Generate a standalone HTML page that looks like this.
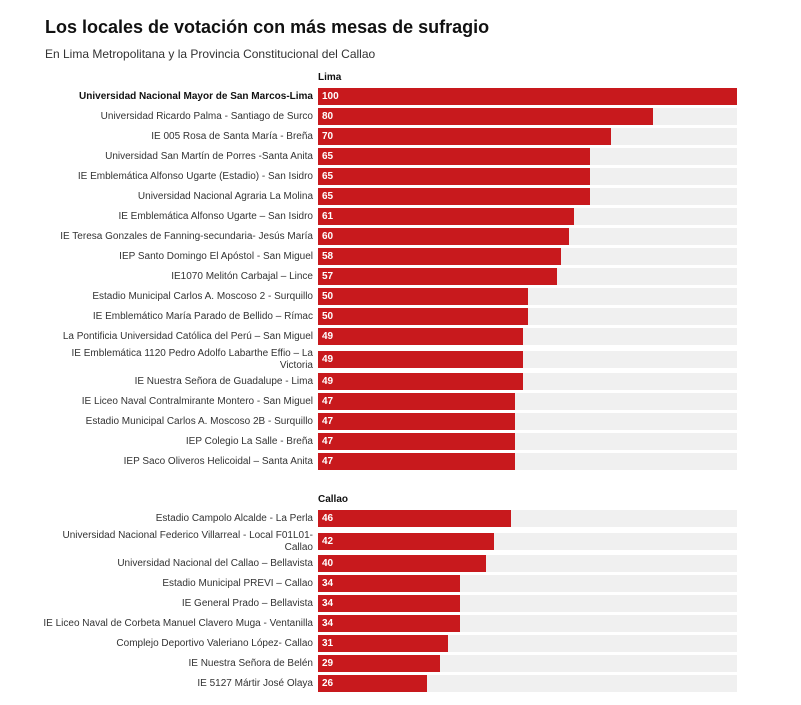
<!DOCTYPE html>
<html><head><meta charset="utf-8">
<style>
body{margin:0;background:#fff;width:801px;height:705px;overflow:hidden;font-family:"Liberation Sans",sans-serif;position:relative}
.t{position:absolute;left:45px;top:17px;font-size:18px;font-weight:bold;color:#111}
.s{position:absolute;left:45px;top:47px;font-size:12px;color:#333}
.h{position:absolute;left:318px;font-size:10px;font-weight:bold;color:#111}
.lab{position:absolute;right:488px;text-align:right;font-size:10px;color:#333;line-height:12px;white-space:nowrap}
.lab.two{white-space:normal;width:252px}
.bg{position:absolute;left:318px;width:419px;height:17px;background:#f0f0f0}
.bar{position:absolute;left:318px;height:17px;background:#c8191d}
.v{position:absolute;left:322px;height:17px;line-height:17px;font-size:10px;font-weight:bold;color:#fff}
</style></head><body>
<div class="t">Los locales de votación con más mesas de sufragio</div>
<div class="s">En Lima Metropolitana y la Provincia Constitucional del Callao</div>
<div id="c"></div>
<script>
const limaNames=["Universidad Nacional Mayor de San Marcos-Lima","Universidad Ricardo Palma - Santiago de Surco","IE 005 Rosa de Santa María - Breña","Universidad San Martín de Porres -Santa Anita","IE Emblemática Alfonso Ugarte (Estadio) - San Isidro","Universidad Nacional Agraria La Molina","IE Emblemática Alfonso Ugarte – San Isidro","IE Teresa Gonzales de Fanning-secundaria- Jesús María","IEP Santo Domingo El Apóstol - San Miguel","IE1070 Melitón Carbajal – Lince","Estadio Municipal Carlos A. Moscoso 2 - Surquillo","IE Emblemático María Parado de Bellido – Rímac","La Pontificia Universidad Católica del Perú – San Miguel","IE Emblemática 1120 Pedro Adolfo Labarthe Effio – La Victoria","IE Nuestra Señora de Guadalupe - Lima","IE Liceo Naval Contralmirante Montero - San Miguel","Estadio Municipal Carlos A. Moscoso 2B - Surquillo","IEP Colegio La Salle - Breña","IEP Saco Oliveros Helicoidal – Santa Anita"];
const limaValues=[100,80,70,65,65,65,61,60,58,57,50,50,49,49,49,47,47,47,47];
const callaoNames=["Estadio Campolo Alcalde - La Perla","Universidad Nacional Federico Villarreal - Local F01L01-Callao","Universidad Nacional del Callao – Bellavista","Estadio Municipal PREVI – Callao","IE General Prado – Bellavista","IE Liceo Naval de Corbeta Manuel Clavero Muga - Ventanilla","Complejo Deportivo Valeriano López- Callao","IE Nuestra Señora de Belén","IE 5127 Mártir José Olaya"];
const callaoValues=[46,42,40,34,34,34,31,29,26];
const maxV=100;
const x=v=>v/maxV*419;
const c=document.getElementById('c');
function group(title,hy,names,vals,twoLine){
  const h=document.createElement('div');h.className='h';h.style.top=hy+'px';h.textContent=title;
  
  
  c.appendChild(h);
  let y=hy+16;
  names.forEach((n,i)=>{
    const two=twoLine.includes(i);
    if(two&&i>0)y+=3;
    const l=document.createElement('div');l.className='lab'+(two?' two':'');l.textContent=n;
    
    
    if(i===0&&title==='Lima'){l.style.fontWeight='bold';l.style.color='#111';}
    l.style.top=(two?y-3:y+3)+'px';c.appendChild(l);
    const bg=document.createElement('div');bg.className='bg';bg.style.top=y+'px';
    
    
    c.appendChild(bg);
    const b=document.createElement('div');b.className='bar';b.style.top=y+'px';b.style.width=x(vals[i])+'px';
    
    
    c.appendChild(b);
    const v=document.createElement('div');v.className='v';v.style.top=y+'px';v.textContent=vals[i];
    
    
    c.appendChild(v);
    y+=20+(two?2:0);
  });
}
group('Lima',72,limaNames,limaValues,[13]);
group('Callao',494,callaoNames,callaoValues,[1]);
</script>
</body></html>
